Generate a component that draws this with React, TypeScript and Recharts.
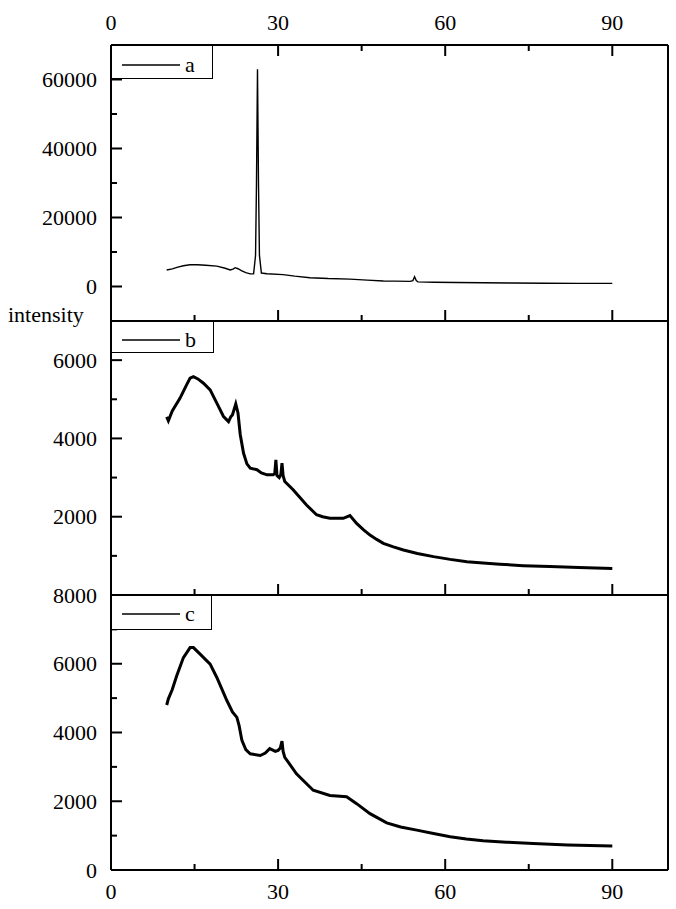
import React from 'react';
import { LineChart, Line, XAxis, YAxis, Legend } from 'recharts';

const FONT = "'Times New Roman', 'Liberation Serif', 'DejaVu Serif', serif";
const PL = 111;
const PR = 668;

const xTicks = [0, 15, 30, 45, 60, 75, 90];
const xLabels = [0, 30, 60, 90];

// Panel a
const aX = [10, 11, 12, 13, 14.2, 15.5, 17, 19, 20.5, 21.4, 21.9, 22.3, 22.8, 23.4, 24.2, 25.0, 25.6, 25.95, 26.12, 26.3, 26.48, 26.65, 27.0, 28, 30.9, 33, 35.7, 39, 42.9, 46, 48.9, 51, 53.7, 54.2, 54.5, 54.8, 55.1, 58, 62, 66.8, 72, 78, 84, 90];
const aY = [4800, 5100, 5600, 6000, 6300, 6300, 6150, 5900, 5300, 4800, 5050, 5450, 5150, 4600, 4000, 3650, 3700, 9000, 30000, 63000, 30000, 9000, 3900, 3700, 3450, 3000, 2550, 2300, 2150, 1850, 1600, 1550, 1500, 1700, 2800, 1700, 1350, 1250, 1150, 1100, 1000, 950, 900, 900];
const aTicks = [0, 10000, 20000, 30000, 40000, 50000, 60000];
const aLabels = [0, 20000, 40000, 60000];

// Panel b
const bX = [10.0, 10.3, 11, 12.4, 13.5, 14.2, 14.8, 15.6, 16.6, 17.8, 19, 20.2, 21.1, 21.5, 21.8, 22.4, 22.8, 23.2, 23.8, 24.4, 25.0, 26.2, 27, 28.0, 29.1, 29.4, 29.6, 29.8, 30.2, 30.5, 30.7, 30.9, 31.2, 32.7, 35.1, 36.9, 38, 39.3, 41.7, 42.9, 44.1, 45.3, 46.5, 47.7, 48.9, 50.7, 52.5, 55, 57.9, 60.9, 63.9, 66.8, 69.8, 74, 78.8, 84, 90];
const bY = [4550, 4450, 4700, 5030, 5350, 5540, 5580, 5520, 5410, 5240, 4900, 4560, 4430, 4550, 4600, 4880, 4650, 4100, 3620, 3350, 3240, 3200, 3120, 3070, 3070, 3100, 3450, 3050, 3000, 3080, 3370, 3050, 2900, 2690, 2300, 2050, 2000, 1960, 1960, 2030, 1830, 1670, 1530, 1420, 1320, 1230, 1150, 1060, 980, 910, 850, 815, 785, 750, 725, 700, 680];
const bTicks = [1000, 2000, 3000, 4000, 5000, 6000];
const bLabels = [2000, 4000, 6000];

// Panel c
const cX = [10.0, 10.3, 11, 11.8, 13.0, 14.2, 14.8, 16.0, 17.8, 19.0, 20.8, 21.8, 22.6, 23.0, 23.5, 24.2, 25.0, 26.8, 27.7, 28.5, 29.5, 30.0, 30.4, 30.7, 30.9, 31.2, 33.3, 36.3, 39.3, 42.3, 44.1, 46.5, 49.5, 52, 54.9, 57.9, 60.9, 63.8, 66.8, 71, 75.8, 82, 90];
const cY = [4800, 4980, 5250, 5650, 6180, 6470, 6470, 6280, 5990, 5600, 4930, 4600, 4440, 4200, 3770, 3500, 3380, 3330, 3400, 3530, 3450, 3480, 3550, 3750, 3450, 3280, 2800, 2320, 2170, 2130, 1930, 1640, 1370, 1250, 1160, 1060, 970, 900, 850, 810, 770, 730, 700];
const cTicks = [0, 1000, 2000, 3000, 4000, 5000, 6000, 7000, 8000];
const cLabels = [0, 2000, 4000, 6000, 8000];

const zip = (xs: number[], ys: number[]) => xs.map((x, i) => ({ x, y: ys[i] }));
const aData = zip(aX, aY);
const bData = zip(bX, bY);
const cData = zip(cX, cY);

const AX = { stroke: '#000', strokeWidth: 2 };
const TXT = { fontFamily: FONT, fontSize: 22 };

const leftTick = (labels: number[]) => (props: any) => {
  const { y, payload } = props;
  const v = payload.value;
  const major = labels.includes(v);
  return (
    <g>
      <line x1={PL} x2={PL + (major ? 11 : 6)} y1={y} y2={y} stroke="#000" strokeWidth={2} />
      {major && (
        <text x={PL - 14} y={y} dy="0.35em" textAnchor="end" style={TXT} fill="#000">
          {v}
        </text>
      )}
    </g>
  );
};

const rightTick = (labels: number[]) => (props: any) => {
  const { y, payload } = props;
  const major = labels.includes(payload.value);
  return <line x1={PR} x2={PR - (major ? 11 : 6)} y1={y} y2={y} stroke="#000" strokeWidth={2} />;
};

const xTick = (axisY: number, dir: number, labelY: number | null) => (props: any) => {
  const { x, payload } = props;
  const v = payload.value;
  const major = xLabels.includes(v);
  return (
    <g>
      {v !== 0 && (
        <line x1={x} x2={x} y1={axisY} y2={axisY + dir * (major ? 11 : 6)} stroke="#000" strokeWidth={2} />
      )}
      {major && labelY !== null && (
        <text x={x} y={labelY} dy="0.35em" textAnchor="middle" style={TXT} fill="#000">
          {v}
        </text>
      )}
    </g>
  );
};

const legendContent = (w: number, h: number, ly: number) => (props: any) => {
  const name = props.payload && props.payload[0] ? props.payload[0].value : '';
  return (
    <div style={{ width: w, height: h, border: '1.5px solid #000', boxSizing: 'border-box', background: '#fff', position: 'relative' }}>
      <svg width={w} height={h} style={{ position: 'absolute', left: -1.5, top: -1.5 }}>
        <line x1={11} x2={69} y1={ly} y2={ly} stroke="#000" strokeWidth={1.5} />
        <text x={74} y={ly} dy="0.3em" style={TXT} fill="#000">{name}</text>
      </svg>
    </div>
  );
};

export default function App() {
  return (
    <div style={{ position: 'absolute', left: 0, top: 0, width: 676, height: 909, background: '#fff', overflow: 'hidden' }}>
      {/* Panel a */}
      <div style={{ position: 'absolute', left: 0, top: 0 }}>
        <LineChart width={676} height={330} data={aData} margin={{ top: 0, right: 0, bottom: 0, left: 0 }}>
          <XAxis xAxisId="t" orientation="top" type="number" dataKey="x" domain={[0, 100]} ticks={xTicks} interval={0} height={45} tickLine={false} axisLine={AX} tick={xTick(45, 1, 22)} />
          <XAxis xAxisId="b" orientation="bottom" type="number" dataKey="x" domain={[0, 100]} ticks={xTicks} interval={0} height={9} tickLine={false} axisLine={AX} tick={xTick(321, -1, null)} />
          <YAxis yAxisId="l" type="number" domain={[-10000, 70000]} ticks={aTicks} interval={0} width={111} tickLine={false} axisLine={AX} tick={leftTick(aLabels)} />
          <YAxis yAxisId="r" orientation="right" type="number" domain={[-10000, 70000]} ticks={aTicks} interval={0} width={8} tickLine={false} axisLine={AX} tick={rightTick(aLabels)} />
          <Line xAxisId="t" yAxisId="l" name="a" dataKey="y" stroke="#000" strokeWidth={1.4} dot={false} isAnimationActive={false} />
          <Legend verticalAlign="middle" layout="horizontal" wrapperStyle={{ left: 111, top: 45, width: 102, height: 34 }} content={legendContent(102, 34, 20)} />
        </LineChart>
      </div>
      {/* Panel b */}
      <div style={{ position: 'absolute', left: 0, top: 300 }}>
        <LineChart width={676} height={310} data={bData} margin={{ top: 21, right: 0, bottom: 0, left: 0 }}>
          <XAxis xAxisId="b" orientation="bottom" type="number" dataKey="x" domain={[0, 100]} ticks={xTicks} interval={0} height={15} tickLine={false} axisLine={AX} tick={xTick(295, -1, null)} />
          <YAxis yAxisId="l" type="number" domain={[0, 7000]} ticks={bTicks} interval={0} width={111} tickLine={false} axisLine={AX} tick={leftTick(bLabels)} />
          <YAxis yAxisId="r" orientation="right" type="number" domain={[0, 7000]} ticks={bTicks} interval={0} width={8} tickLine={false} axisLine={AX} tick={rightTick(bLabels)} />
          <Line xAxisId="b" yAxisId="l" name="b" dataKey="y" stroke="#000" strokeWidth={3} dot={false} isAnimationActive={false} />
          <Legend verticalAlign="middle" layout="horizontal" wrapperStyle={{ left: 111, top: 21, width: 103, height: 32 }} content={legendContent(103, 32, 19)} />
        </LineChart>
      </div>
      {/* Panel c */}
      <div style={{ position: 'absolute', left: 0, top: 580 }}>
        <LineChart width={676} height={329} data={cData} margin={{ top: 15, right: 0, bottom: 0, left: 0 }}>
          <XAxis xAxisId="b" orientation="bottom" type="number" dataKey="x" domain={[0, 100]} ticks={xTicks} interval={0} height={39} tickLine={false} axisLine={AX} tick={xTick(290, -1, 311)} />
          <YAxis yAxisId="l" type="number" domain={[0, 8000]} ticks={cTicks} interval={0} width={111} tickLine={false} axisLine={AX} tick={leftTick(cLabels)} />
          <YAxis yAxisId="r" orientation="right" type="number" domain={[0, 8000]} ticks={cTicks} interval={0} width={8} tickLine={false} axisLine={AX} tick={rightTick(cLabels)} />
          <Line xAxisId="b" yAxisId="l" name="c" dataKey="y" stroke="#000" strokeWidth={3} dot={false} isAnimationActive={false} />
          <Legend verticalAlign="middle" layout="horizontal" wrapperStyle={{ left: 111, top: 15, width: 101, height: 35 }} content={legendContent(101, 35, 19)} />
        </LineChart>
      </div>
      <div style={{ position: 'absolute', left: 8, top: 303, fontFamily: FONT, fontSize: 22, lineHeight: '24px', color: '#000' }}>
        intensity
      </div>
    </div>
  );
}
